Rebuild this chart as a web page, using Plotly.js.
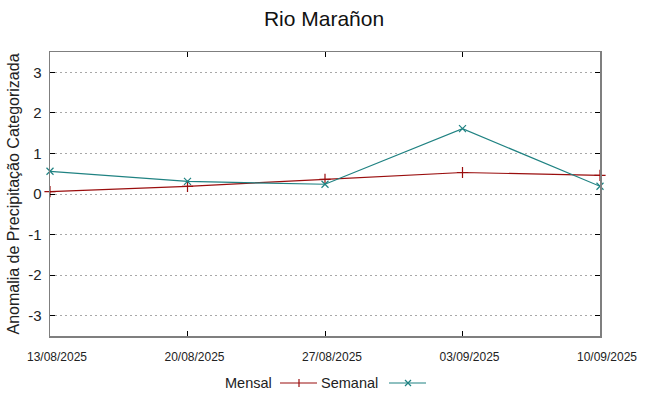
<!DOCTYPE html>
<html>
<head>
<meta charset="utf-8">
<script src="https://cdn.plot.ly/plotly-3.0.1.min.js"></script>
<style>html,body{margin:0;padding:0;background:#fff;}#chart{width:648px;height:396px;}</style>
</head>
<body>
<div id="chart"></div>
<script>
const dates = ['2025-08-13','2025-08-20','2025-08-27','2025-09-03','2025-09-10'];
const tickLabels = ['13/08/2025','20/08/2025','27/08/2025','03/09/2025','10/09/2025'];
const mensal = [0.06, 0.19, 0.36, 0.53, 0.46];
const semanal = [0.56, 0.31, 0.24, 1.61, 0.19];
const yTicks = [-3, -2, -1, 0, 1, 2, 3];

const red = '#9a0e0e';
const teal = '#1f8282';

const traces = [
  {x: dates, y: mensal, name: 'Mensal', mode: 'lines+markers', type: 'scatter',
   line: {color: red, width: 1.2},
   marker: {symbol: 'cross-thin', size: 8, line: {color: red, width: 1.2}, color: red},
   cliponaxis: false, showlegend: false},
  {x: dates, y: semanal, name: 'Semanal', mode: 'lines+markers', type: 'scatter',
   line: {color: teal, width: 1.2},
   marker: {symbol: 'x-thin', size: 7, line: {color: teal, width: 1.2}, color: teal},
   cliponaxis: false, showlegend: false}
];

// plot area in pixels
const L = 50, R = 600, T = 52, B = 336;
const px = x => (x - L) / (R - L);
const py = y => (B - y) / (B - T);
const legY = 383;

const shapes = [
  {type: 'line', xref: 'paper', yref: 'paper', x0: px(280), x1: px(317), y0: py(legY), y1: py(legY), line: {color: red, width: 1.2}},
  {type: 'line', xref: 'paper', yref: 'paper', x0: px(299), x1: px(299), y0: py(legY - 4), y1: py(legY + 4), line: {color: red, width: 1.2}},
  {type: 'line', xref: 'paper', yref: 'paper', x0: px(389), x1: px(426), y0: py(legY), y1: py(legY), line: {color: teal, width: 1.2}},
  {type: 'line', xref: 'paper', yref: 'paper', x0: px(405), x1: px(411), y0: py(legY - 3), y1: py(legY + 3), line: {color: teal, width: 1.2}},
  {type: 'line', xref: 'paper', yref: 'paper', x0: px(405), x1: px(411), y0: py(legY + 3), y1: py(legY - 3), line: {color: teal, width: 1.2}}
];

const annotations = [
  {text: 'Mensal', xref: 'paper', yref: 'paper', x: px(274), y: py(legY), xanchor: 'right', yanchor: 'middle', showarrow: false,
   font: {family: 'Liberation Sans, Arial, sans-serif', size: 14.5, color: '#222'}},
  {text: 'Semanal', xref: 'paper', yref: 'paper', x: px(380), y: py(legY), xanchor: 'right', yanchor: 'middle', showarrow: false,
   font: {family: 'Liberation Sans, Arial, sans-serif', size: 14.5, color: '#222'}}
];

const layout = {
  width: 648, height: 396,
  margin: {l: L, r: 648 - R, t: T, b: 396 - B},
  paper_bgcolor: '#fff', plot_bgcolor: '#fff',
  font: {family: 'Liberation Sans, Arial, sans-serif', color: '#222'},
  title: {text: 'Rio Marañon', x: 0.5, xanchor: 'center', y: 1 - 19/396, yanchor: 'middle',
          font: {size: 21, color: '#111'}},
  showlegend: false,
  xaxis: {
    type: 'date', range: [dates[0], dates[dates.length - 1]],
    tickvals: dates, ticktext: tickLabels,
    tickfont: {size: 12, color: '#222'},
    ticks: 'inside', ticklen: 5, tickcolor: '#000', tickwidth: 1,
    showgrid: false, zeroline: false,
    showline: true, linecolor: '#7f7f7f', linewidth: 1.5, mirror: 'allticks',
    ticklabelshift: 7, ticklabelstandoff: 9
  },
  yaxis: {
    range: [-3.5, 3.5], tickvals: yTicks, ticktext: yTicks.map(String),
    tickfont: {size: 15, color: '#222'},
    ticks: 'inside', ticklen: 5, tickcolor: '#000', tickwidth: 1,
    showgrid: true, gridcolor: '#a8a8a8', griddash: '2px,3px', gridwidth: 1,
    zeroline: false,
    showline: true, linecolor: '#7f7f7f', linewidth: 1.5, mirror: 'allticks',
    ticklabelstandoff: 4,
    title: {text: 'Anomalia de Precipitação Categorizada', font: {size: 16, color: '#222'}, standoff: 4}
  },
  shapes: shapes,
  annotations: annotations
};

Plotly.newPlot('chart', traces, layout, {displayModeBar: false, staticPlot: true});
</script>
</body>
</html>
